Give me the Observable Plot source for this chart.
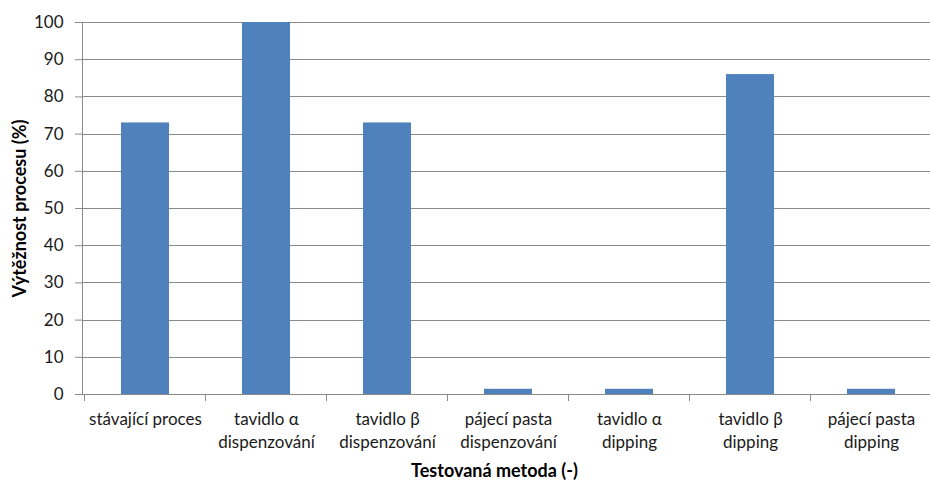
<!DOCTYPE html>
<html>
<head>
<meta charset="utf-8">
<script src="https://cdn.jsdelivr.net/npm/d3@7"></script>
<script src="https://cdn.jsdelivr.net/npm/@observablehq/plot@0.6"></script>
<style>
  html, body { margin: 0; padding: 0; background: #fff; overflow: hidden; }
  #chart svg { display: block; }
</style>
</head>
<body>
<div id="chart"></div>
<script>
// Tested methods and their process yield (%)
const methods = [
  "stávající proces",
  "tavidlo α\ndispenzování",
  "tavidlo β\ndispenzování",
  "pájecí pasta\ndispenzování",
  "tavidlo α\ndipping",
  "tavidlo β\ndipping",
  "pájecí pasta\ndipping"
];
const yieldPct = [73, 100, 73, 1.4, 1.4, 86, 1.4];
const yTicks = [0, 10, 20, 30, 40, 50, 60, 70, 80, 90, 100];

const data = methods.map((m, i) => ({method: m, value: yieldPct[i]}));

const font = "Lato, 'Open Sans', sans-serif";
const gridColor = "#8a8a8a";
const textColor = "#1a1a1a";

// Axis lines of the plot area plus small ticks at the category band boundaries
function axisFrame(index, scales, values, dims) {
  const x = scales.x;
  const bw = x.bandwidth();
  const gap = x.step() - bw;
  const left = dims.marginLeft;
  const right = dims.width - dims.marginRight;
  const top = dims.marginTop;
  const bottom = dims.height - dims.marginBottom;
  const g = d3.create("svg:g")
    .attr("stroke", gridColor)
    .attr("stroke-width", 1)
    .attr("shape-rendering", "crispEdges");
  g.append("line").attr("x1", left).attr("x2", left).attr("y1", top).attr("y2", bottom);
  g.append("line").attr("x1", left - 7).attr("x2", right).attr("y1", bottom).attr("y2", bottom);
  const domain = x.domain();
  const edges = domain.map(d => x(d) - gap / 2);
  edges.push(x(domain[domain.length - 1]) + bw + gap / 2);
  for (const e of edges) {
    g.append("line").attr("x1", e).attr("x2", e).attr("y1", bottom).attr("y2", bottom + 7);
  }
  return g.node();
}

const chart = Plot.plot({
  width: 930,
  height: 480,
  marginTop: 22,
  marginBottom: 86,
  marginLeft: 82,
  marginRight: -4,
  style: {fontFamily: font, fontSize: "17px", color: textColor, background: "#fff"},
  x: {domain: methods, paddingInner: 0.6, paddingOuter: 0.3, label: null},
  y: {domain: [0, 100], label: null},
  marks: [
    Plot.ruleY(yTicks, {stroke: gridColor, shapeRendering: "crispEdges"}),
    Plot.barY(data, {x: "method", y: "value", fill: "#4F81BD"}),
    axisFrame,
    Plot.axisY(yTicks, {tickSize: 7, tickPadding: 12, stroke: gridColor, fontSize: 17, fill: textColor, label: null}),
    Plot.axisX({tickSize: 0, tickPadding: 14, fontSize: 17, lineHeight: 1.35, fill: textColor, label: null}),
    Plot.text(["Testovaná metoda (-)"], {
      frameAnchor: "bottom", lineAnchor: "middle", dy: 77, dx: -14,
      fontWeight: "bold", fontSize: 18, fill: "#000"
    }),
    Plot.text(["Výtěžnost procesu (%)"], {
      frameAnchor: "left", textAnchor: "middle", lineAnchor: "middle", dx: -62, rotate: -90,
      fontWeight: "bold", fontSize: 18, fill: "#000"
    })
  ]
});

document.getElementById("chart").appendChild(chart);
</script>
</body>
</html>
